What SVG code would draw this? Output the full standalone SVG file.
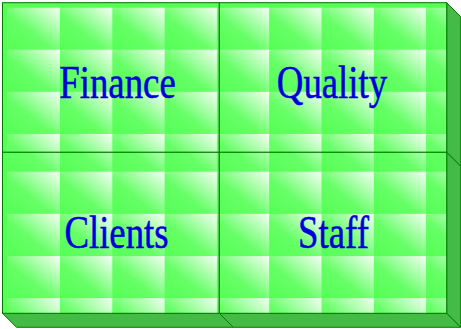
<svg xmlns="http://www.w3.org/2000/svg" width="461" height="329" viewBox="0 0 461 329">
<style>
.face{fill:#44bb44;stroke:#007a00;stroke-width:1}
.front{stroke:#007a00;stroke-width:1}
.edge{fill:#55ff55}
.lbl{font-family:"Liberation Serif","Times New Roman",serif;font-size:46px;fill:#0000dd;stroke:#0000dd;stroke-width:0.5;text-anchor:middle}
</style>
<defs>
<linearGradient id="tg" x1="0" y1="1" x2="1" y2="0">
<stop offset="0" stop-color="#55ff55"/>
<stop offset="0.42" stop-color="#66ff66"/>
<stop offset="1" stop-color="#f4fff4"/>
</linearGradient>
<pattern id="pA" patternUnits="userSpaceOnUse" x="7.7" y="7.5" width="52.3" height="42.15">
<rect width="52.3" height="42.15" fill="url(#tg)"/>
</pattern>
<pattern id="pB" patternUnits="userSpaceOnUse" x="7.7" y="171.7" width="52.3" height="42.15">
<rect width="52.3" height="42.15" fill="url(#tg)"/>
</pattern>
</defs>
<g id="connectors"/>
<g id="finance">
<rect x="2.5" y="2.7" width="216.8" height="149.6" fill="url(#pA)"/>
<rect class="edge" x="2.5" y="2.7" width="5.2" height="149.6"/>
<rect class="edge" x="2.5" y="2.7" width="216.8" height="4.8"/>
<rect class="front" x="2.5" y="2.7" width="216.8" height="149.6" fill="none"/>
<text class="lbl" transform="translate(117.5,98) scale(0.8,1)">Finance</text>
</g>
<g id="quality">
<polygon class="face" points="446.7,2.7 460.7,16.7 460.7,166.3 446.7,152.3"/>
<rect x="219.3" y="2.7" width="227.4" height="149.6" fill="url(#pA)"/>
<rect class="edge" x="219.3" y="2.7" width="227.4" height="4.8"/>
<rect class="front" x="219.3" y="2.7" width="227.4" height="149.6" fill="none"/>
<text class="lbl" transform="translate(332,98) scale(0.8,1)">Quality</text>
</g>
<g id="clients">
<polygon class="face" points="2.5,313.3 219.3,313.3 233.3,327.3 16.5,327.3"/>
<rect x="2.5" y="152.3" width="216.8" height="161" fill="url(#pB)"/>
<rect class="edge" x="2.5" y="152.3" width="5.2" height="161"/>
<rect class="front" x="2.5" y="152.3" width="216.8" height="161" fill="none"/>
<text class="lbl" transform="translate(116.5,248) scale(0.8,1)">Clients</text>
</g>
<g id="staff">
<polygon class="face" points="446.7,152.3 460.7,166.3 460.7,327.3 446.7,313.3"/>
<polygon class="face" points="219.3,313.3 446.7,313.3 460.7,327.3 233.3,327.3"/>
<rect x="219.3" y="152.3" width="227.4" height="161" fill="url(#pB)"/>
<rect class="front" x="219.3" y="152.3" width="227.4" height="161" fill="none"/>
<text class="lbl" transform="translate(333.5,248) scale(0.8,1)">Staff</text>
</g>
</svg>
